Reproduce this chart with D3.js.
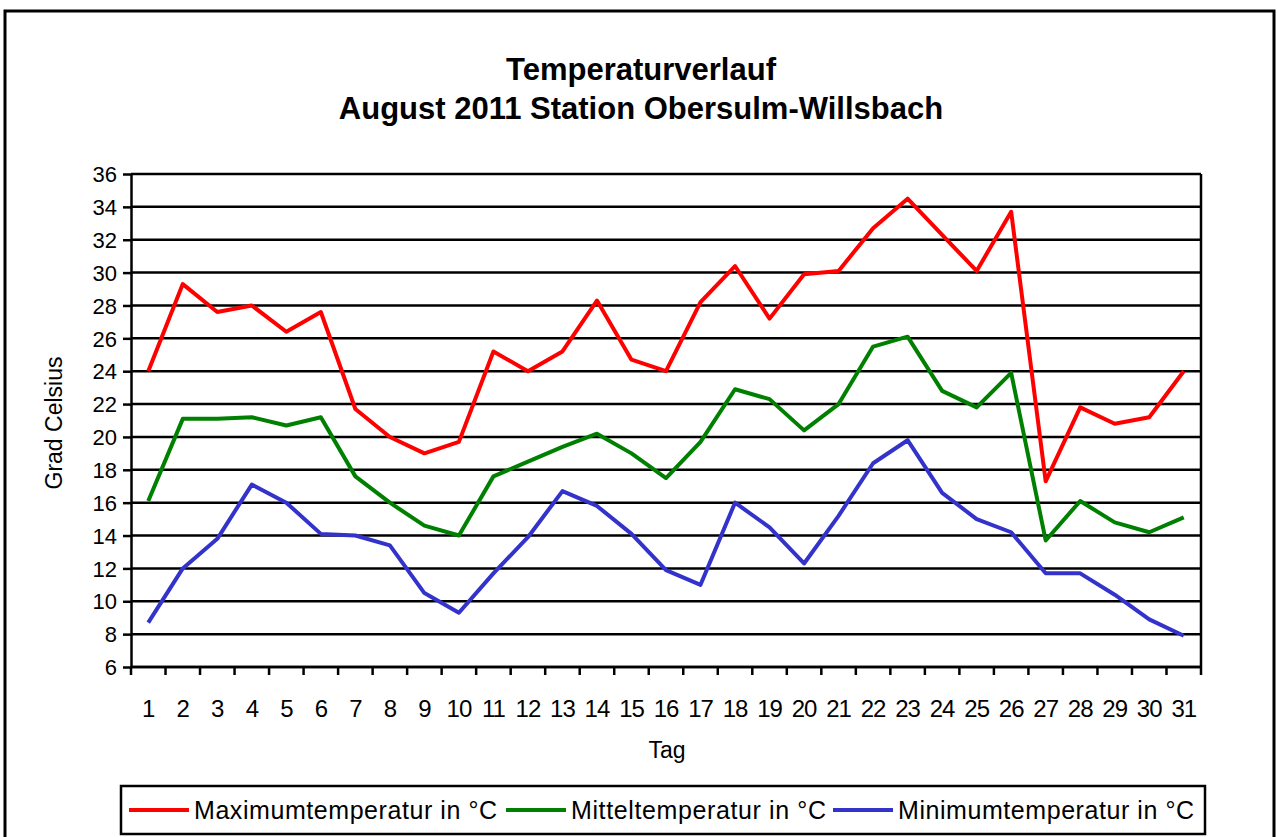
<!DOCTYPE html>
<html lang="de">
<head>
<meta charset="utf-8">
<title>Temperaturverlauf August 2011</title>
<script src="https://d3js.org/d3.v7.min.js"></script>
<style>
  body { margin: 0; background: #fff; }
  svg { font-family: "Liberation Sans", Arial, sans-serif; }
  .grid line { stroke: #000; stroke-width: 2.5; }
  .axis path, .axis line { stroke: #000; stroke-width: 2.5; }
  .axis text { font-size: 22px; fill: #000; }
  .series { fill: none; stroke-width: 4; stroke-linejoin: round; }
</style>
</head>
<body>
<script>
var days = d3.range(1, 32);
var maxTemp = [24.0, 29.3, 27.6, 28.0, 26.4, 27.6, 21.7, 20.0, 19.0, 19.7,
               25.2, 24.0, 25.2, 28.3, 24.7, 24.0, 28.2, 30.4, 27.2, 29.9,
               30.1, 32.7, 34.5, 32.3, 30.1, 33.7, 17.3, 21.8, 20.8, 21.2, 24.0];
var meanTemp = [16.1, 21.1, 21.1, 21.2, 20.7, 21.2, 17.6, 16.0, 14.6, 14.0,
                17.6, 18.5, 19.4, 20.2, 19.0, 17.5, 19.7, 22.9, 22.3, 20.4,
                22.0, 25.5, 26.1, 22.8, 21.8, 23.9, 13.7, 16.1, 14.8, 14.2, 15.1];
var minTemp = [8.7, 12.0, 13.8, 17.1, 16.0, 14.1, 14.0, 13.4, 10.5, 9.3,
               11.7, 13.9, 16.7, 15.8, 14.1, 11.9, 11.0, 16.0, 14.5, 12.3,
               15.2, 18.4, 19.8, 16.6, 15.0, 14.2, 11.7, 11.7, 10.4, 8.9, 7.9];
var yTicks = d3.range(6, 37, 2);
var seriesNames = ["Maximumtemperatur in °C", "Mitteltemperatur in °C", "Minimumtemperatur in °C"];
var seriesColors = ["#ff0000", "#008000", "#3333cc"];
var titleLines = ["Temperaturverlauf", "August 2011 Station Obersulm-Willsbach"];

var W = 1277, H = 837;
var plot = {left: 131, right: 1201, top: 174, bottom: 667};

var svg = d3.select("body").append("svg")
    .attr("width", W)
    .attr("height", H);

// outer frame
svg.append("rect")
    .attr("x", 5).attr("y", 11)
    .attr("width", 1269).attr("height", 840)
    .attr("fill", "#fff").attr("stroke", "#000").attr("stroke-width", 3);

svg.selectAll(".title")
    .data(titleLines)
  .enter().append("text")
    .attr("class", "title")
    .attr("x", 641)
    .attr("y", function(d, i) { return 80 + i * 39; })
    .attr("text-anchor", "middle")
    .attr("font-size", 31)
    .attr("font-weight", "bold")
    .text(function(d) { return d; });

var x = d3.scaleBand().domain(days).range([plot.left, plot.right]);
var y = d3.scaleLinear().domain([6, 36]).range([plot.bottom, plot.top]);

// horizontal gridlines
svg.append("g").attr("class", "grid")
  .selectAll("line")
    .data(yTicks)
  .enter().append("line")
    .attr("x1", plot.left).attr("x2", plot.right)
    .attr("y1", function(d) { return y(d); })
    .attr("y2", function(d) { return y(d); });

// right border of plot
svg.append("line")
    .attr("x1", plot.right).attr("x2", plot.right)
    .attr("y1", plot.top).attr("y2", plot.bottom)
    .attr("stroke", "#000").attr("stroke-width", 2.5);

// y axis
var yAxis = svg.append("g").attr("class", "axis")
    .attr("transform", "translate(" + plot.left + ",0)")
    .call(d3.axisLeft(y).tickValues(yTicks).tickSize(8).tickSizeOuter(0).tickPadding(6));
yAxis.selectAll("text").attr("dy", "0.35em");

// x axis: ticks between categories
var xAxisG = svg.append("g").attr("class", "axis")
    .attr("transform", "translate(0," + plot.bottom + ")");
xAxisG.append("line")
    .attr("x1", plot.left).attr("x2", plot.right);
xAxisG.selectAll(".tick-mark")
    .data([0].concat(days))
  .enter().append("line")
    .attr("class", "tick-mark")
    .attr("x1", function(d) { return d === 0 ? plot.left : x(d) + x.bandwidth(); })
    .attr("x2", function(d) { return d === 0 ? plot.left : x(d) + x.bandwidth(); })
    .attr("y1", 0).attr("y2", 8);
xAxisG.selectAll(".lbl")
    .data(days)
  .enter().append("text")
    .attr("class", "lbl")
    .attr("x", function(d) { return x(d) + x.bandwidth() / 2; })
    .attr("y", 50)
    .attr("text-anchor", "middle")
    .style("font-size", "24px")
    .style("letter-spacing", "-1px")
    .text(function(d) { return d; });

svg.append("text")
    .attr("x", 667).attr("y", 758)
    .attr("text-anchor", "middle")
    .attr("font-size", 23)
    .text("Tag");

svg.append("text")
    .attr("transform", "translate(62,423) rotate(-90)")
    .attr("text-anchor", "middle")
    .attr("font-size", 23)
    .text("Grad Celsius");

// series lines
var line = d3.line()
    .x(function(d, i) { return x(days[i]) + x.bandwidth() / 2; })
    .y(function(d) { return y(d); });

svg.selectAll(".series")
    .data([maxTemp, meanTemp, minTemp])
  .enter().append("path")
    .attr("class", "series")
    .attr("stroke", function(d, i) { return seriesColors[i]; })
    .attr("d", line);

// legend
var legend = svg.append("g");
legend.append("rect")
    .attr("x", 121).attr("y", 786)
    .attr("width", 1084).attr("height", 48)
    .attr("fill", "#fff").attr("stroke", "#000").attr("stroke-width", 2.5);
var legendX = [129, 506, 833];
var legendTextW = [303, 255, 296];
var item = legend.selectAll(".item")
    .data(seriesNames)
  .enter().append("g")
    .attr("class", "item")
    .attr("transform", function(d, i) { return "translate(" + legendX[i] + ",810)"; });
item.append("line")
    .attr("x1", 0).attr("x2", 60)
    .attr("stroke", function(d, i) { return seriesColors[i]; })
    .attr("stroke-width", 4);
item.append("text")
    .attr("x", 65).attr("dy", "0.35em")
    .attr("font-size", 25)
    .attr("textLength", function(d, i) { return legendTextW[i]; })
    .attr("lengthAdjust", "spacing")
    .text(function(d) { return d; });
</script>
</body>
</html>
